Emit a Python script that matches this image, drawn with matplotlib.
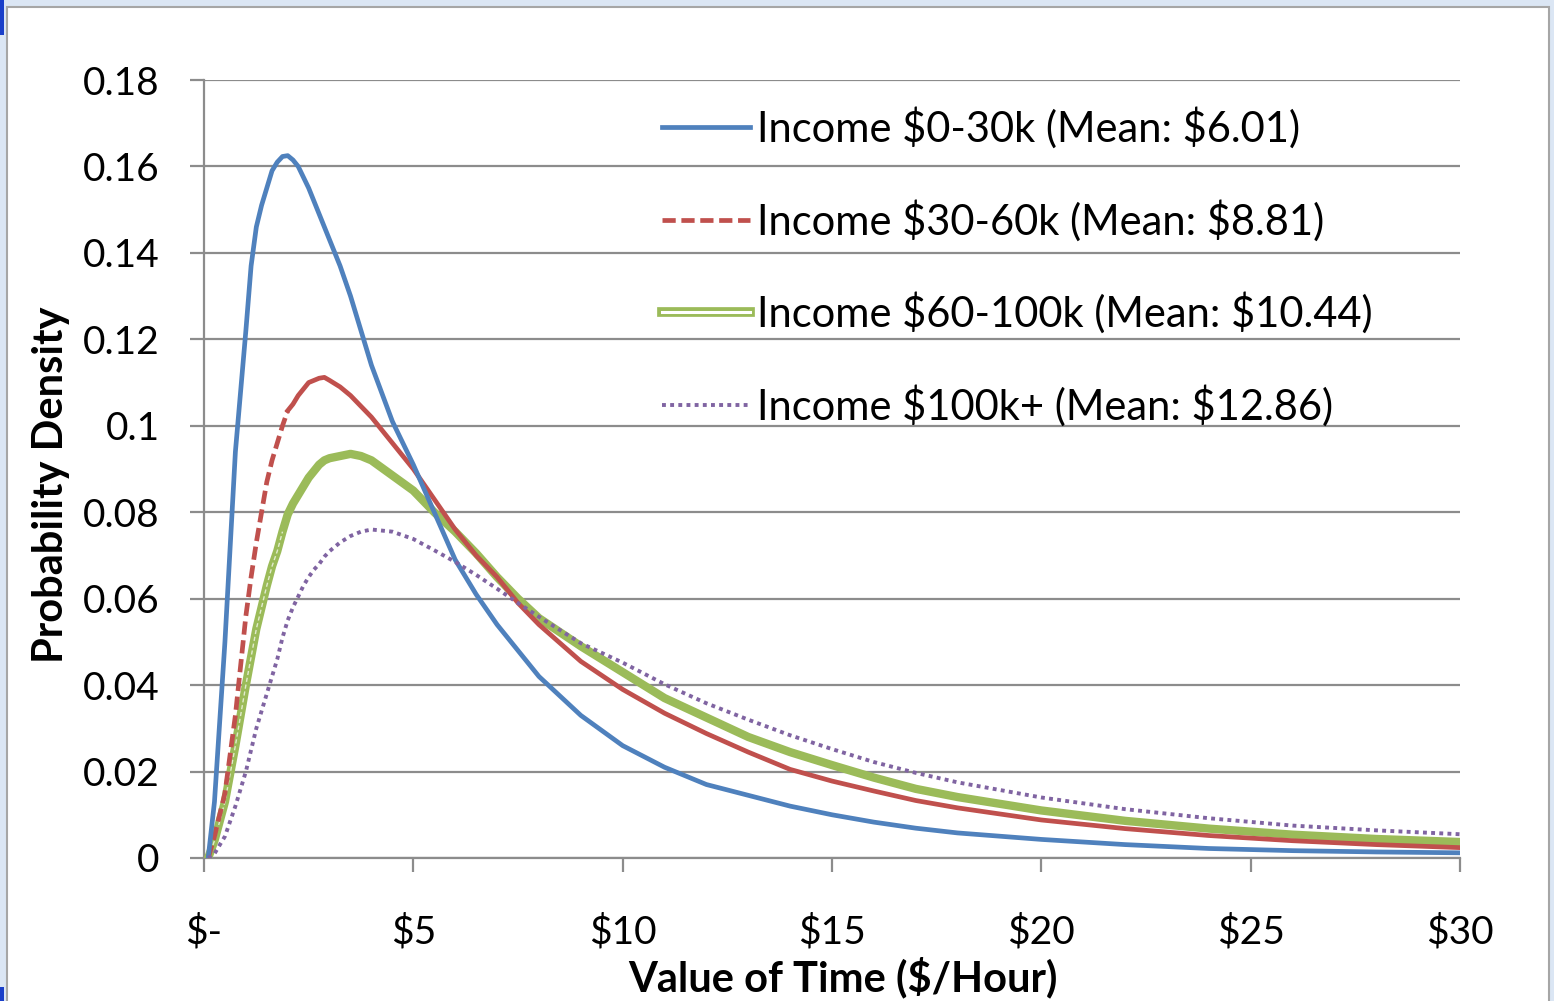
import matplotlib
matplotlib.use("Agg")
import matplotlib.pyplot as plt
import matplotlib.patheffects as pe
from matplotlib.lines import Line2D
from matplotlib.patches import Rectangle

# value of time ($/hour)
vot = [0.1, 0.25, 0.5, 0.75, 1.0, 1.125, 1.25, 1.375, 1.5, 1.625, 1.75, 1.875,
       2.0, 2.125, 2.25, 2.375, 2.5, 2.625, 2.75, 2.875, 3.0, 3.25, 3.5, 3.75,
       4.0, 4.5, 5.0, 5.5, 6.0, 6.5, 7.0, 7.5, 8.0, 9.0, 10.0, 11.0,
       12.0, 13.0, 14.0, 15.0, 16.0, 17.0, 18.0, 20.0, 22.0, 24.0, 26.0,
       28.0, 30.0]

inc_0_30 = [0.000, 0.013, 0.050, 0.094, 0.122, 0.137, 0.146, 0.151, 0.155,
            0.159, 0.161, 0.1623, 0.1625, 0.1615, 0.160, 0.1575, 0.155, 0.152,
            0.149, 0.146, 0.143, 0.137, 0.130, 0.122, 0.114, 0.101, 0.091,
            0.080, 0.069, 0.061, 0.054, 0.048, 0.042, 0.033, 0.026, 0.021,
            0.017, 0.0145, 0.012, 0.0100, 0.0083, 0.0069, 0.0058, 0.0043,
            0.0031, 0.0022, 0.0017, 0.0014, 0.0012]
inc_30_60 = [0.000, 0.005, 0.015, 0.033, 0.056, 0.065, 0.073, 0.080, 0.087,
             0.092, 0.096, 0.100, 0.1035, 0.105, 0.107, 0.1085, 0.110, 0.1105,
             0.111, 0.1112, 0.1105, 0.109, 0.107, 0.1045, 0.102, 0.096, 0.090,
             0.083, 0.076, 0.070, 0.065, 0.059, 0.054, 0.0455, 0.039, 0.0335,
             0.0288, 0.0245, 0.0205, 0.0178, 0.0155, 0.0133, 0.0116, 0.0088,
             0.0068, 0.0052, 0.0040, 0.0031, 0.0024]
inc_60_100 = [0.000, 0.004, 0.013, 0.026, 0.040, 0.0465, 0.053, 0.058, 0.063,
              0.0675, 0.071, 0.0755, 0.0795, 0.082, 0.084, 0.086, 0.088,
              0.0895, 0.091, 0.092, 0.0925, 0.093, 0.0935, 0.093, 0.092,
              0.0885, 0.085, 0.080, 0.0755, 0.0705, 0.065, 0.060, 0.0555,
              0.049, 0.043, 0.037, 0.0325, 0.028, 0.0245, 0.0215, 0.0186,
              0.016, 0.0141, 0.011, 0.0086, 0.0068, 0.0054, 0.0044, 0.0037]
inc_100_up = [0.000, 0.001, 0.005, 0.012, 0.020, 0.025, 0.030, 0.034, 0.038,
              0.042, 0.046, 0.051, 0.055, 0.058, 0.0605, 0.063, 0.065, 0.0667,
              0.068, 0.0697, 0.071, 0.073, 0.0745, 0.0755, 0.076, 0.0755,
              0.0738, 0.0712, 0.0685, 0.0655, 0.0623, 0.059, 0.0558, 0.0497,
              0.0452, 0.0402, 0.0358, 0.032, 0.0284, 0.0252, 0.0222, 0.0197,
              0.0175, 0.0140, 0.0113, 0.0092, 0.0075, 0.0064, 0.0055]

labels = ["Income \\$0-30k (Mean: \\$6.01)",
          "Income \\$30-60k (Mean: \\$8.81)",
          "Income \\$60-100k (Mean: \\$10.44)",
          "Income \\$100k+ (Mean: \\$12.86)"]

x_ticks = [0, 5, 10, 15, 20, 25, 30]
x_ticklabels = ["$-", "$5", "$10", "$15", "$20", "$25", "$30"]
y_ticks = [0, 0.02, 0.04, 0.06, 0.08, 0.10, 0.12, 0.14, 0.16, 0.18]
y_ticklabels = ["0", "0.02", "0.04", "0.06", "0.08", "0.1", "0.12", "0.14",
                "0.16", "0.18"]

BLUE, RED, GREEN, PURPLE = "#4F81BD", "#C0504D", "#9BBB59", "#8064A2"
GRID = "#8c8c8c"

plt.rcParams["font.family"] = ["Lato", "DejaVu Sans"]
plt.rcParams["mathtext.default"] = "regular"

W, H = 1554, 1001
fig = plt.figure(figsize=(W / 100, H / 100), dpi=100, facecolor="#dbe6f4")

# white chart area with a thin grey border
fig.patches.append(Rectangle((7 / W, -0.01), (1549 - 7) / W, 1.01 - 7 / H,
                             transform=fig.transFigure, facecolor="white",
                             edgecolor="#a6a6a6", lw=1.5, zorder=-10))
fig.patches.append(Rectangle((0, 1 - 35 / H), 4 / W, 35 / H,
                             transform=fig.transFigure, facecolor="#1a3fc9",
                             edgecolor="none", zorder=-9))
fig.patches.append(Rectangle((0, 0), 4 / W, 14 / H,
                             transform=fig.transFigure, facecolor="#1a3fc9",
                             edgecolor="none", zorder=-9))

ax = fig.add_axes([204 / W, (H - 858) / H, (1460 - 204) / W, (858 - 80) / H])
ax.set_facecolor("none")
ax.set_zorder(5)

# the excel dash pattern only shows on the steep rising part
k = vot.index(2.0)
ax.plot(vot, inc_0_30, color=BLUE, lw=3.4, solid_joinstyle="round", zorder=5)
ax.plot(vot[:k + 1], inc_30_60[:k + 1], color=RED, lw=3.4, dashes=(2.8, 1.2), zorder=4)
ax.plot(vot[k:], inc_30_60[k:], color=RED, lw=3.4, solid_joinstyle="round", zorder=4)
ax.plot(vot, inc_60_100, color=GREEN, lw=6.0, solid_joinstyle="round", zorder=3)
ax.plot(vot[:k], inc_60_100[:k], color="white", lw=1.0, alpha=0.7,
        dashes=(3, 2), zorder=3)
ax.plot(vot, inc_100_up, color=PURPLE, lw=2.8, dashes=(1, 1.1), zorder=6)

ax.set_xlim(0, 30)
ax.set_ylim(0, 0.18)
ax.set_xticks(x_ticks)
ax.set_xticklabels(x_ticklabels)
ax.set_yticks(y_ticks)
ax.set_yticklabels(y_ticklabels)
ax.grid(axis="y", color=GRID, lw=1.6)
ax.set_axisbelow(True)
for side in ["top", "right"]:
    ax.spines[side].set_visible(False)
for side in ["left", "bottom"]:
    ax.spines[side].set_color(GRID)
    ax.spines[side].set_linewidth(1.6)
ax.tick_params(axis="both", colors=GRID, width=1.6, length=10, labelcolor="black",
               labelsize=28)
ax.tick_params(axis="y", pad=22)
ax.tick_params(axis="x", pad=30)

ax.set_xlabel("Value of Time ($/Hour)", fontsize=30, fontweight="bold")
ax.set_ylabel("Probability Density", fontsize=30, fontweight="bold")
ax.xaxis.set_label_coords((843 - 204) / 1256, (858 - 957) / 778)
ax.yaxis.set_label_coords((70 - 204) / 1256, (858 - 485) / 778)

# legend proxies
handles = [
    Line2D([], [], color=BLUE, lw=3.4),
    Line2D([], [], color=RED, lw=3.4, dashes=(2.8, 1.2)),
    Line2D([], [], color="white", lw=2.2,
           path_effects=[pe.Stroke(linewidth=7, foreground=GREEN), pe.Normal()]),
    Line2D([], [], color=PURPLE, lw=2.8, dashes=(1, 1.1)),
]
ax.legend(handles, labels, loc="upper left", bbox_to_anchor=(662 / W, 1 - 107 / H),
          bbox_transform=fig.transFigure, frameon=False, fontsize=30,
          handlelength=2.11, handletextpad=0.17, labelspacing=1.22,
          borderpad=0, borderaxespad=0)

fig.savefig("out.png", dpi=100, facecolor=fig.get_facecolor())
